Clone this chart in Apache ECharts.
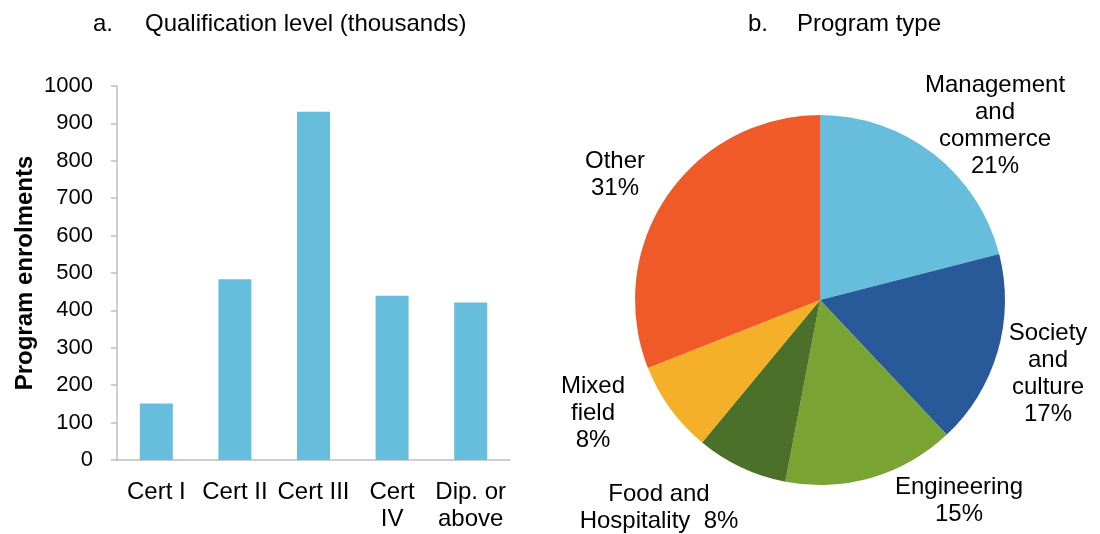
<!DOCTYPE html>
<html>
<head>
<meta charset="utf-8">
<script src="https://cdn.jsdelivr.net/npm/echarts@6/dist/echarts.min.js"></script>
<style>
  html, body { margin: 0; padding: 0; background: #fff; }
  #chart { width: 1100px; height: 534px; }
</style>
</head>
<body>
<div id="chart"></div>
<script>
// a. qualification level (thousands)
var levels = ['Cert I', 'Cert II', 'Cert III', 'Cert\nIV', 'Dip. or\nabove'];
var enrolments = [151, 483, 931, 439, 421];
var yTicks = [0, 100, 200, 300, 400, 500, 600, 700, 800, 900, 1000];

// b. program type (per cent)
var programs = ['Management\nand\ncommerce', 'Society\nand\nculture', 'Engineering', 'Food and\nHospitality ', 'Mixed\nfield', 'Other'];
var shares = [21, 17, 15, 8, 8, 31];
var pieColors = ['#66bddc', '#285a9a', '#79a433', '#4b7029', '#f3b028', '#f05a28'];

var font = '"Liberation Sans", Arial, sans-serif';
var fs = 24;     // words
var numFs = 22;  // tick numbers

// where each pie label sits (centre of text block)
var labelSpots = [[995, 126], [1048, 374], [959, 501], [659, 508], [593, 413], [615, 175]];

var chart = echarts.init(document.getElementById('chart'));

var pieData = [];
for (var i = 0; i < programs.length; i++) {
  pieData.push({ name: programs[i], value: shares[i], itemStyle: { color: pieColors[i] } });
}

function titleStyle() {
  return { fontSize: fs, fontWeight: 'normal', color: '#000', fontFamily: font };
}

var option = {
  animation: false,
  textStyle: { fontFamily: font },
  title: [
    { text: 'a.', left: 88, top: 7, textStyle: titleStyle() },
    { text: 'Qualification level (thousands)', left: 140, top: 7, textStyle: titleStyle() },
    { text: 'b.', left: 743, top: 7, textStyle: titleStyle() },
    { text: 'Program type', left: 792, top: 7, textStyle: titleStyle() }
  ],
  grid: { left: 117, right: 590, top: 86, bottom: 74 },
  xAxis: {
    type: 'category',
    data: levels,
    axisLine: { lineStyle: { color: '#bfbfbf', width: 1.5 } },
    axisTick: { show: false },
    axisLabel: { color: '#000', fontSize: fs, fontFamily: font, margin: 19, lineHeight: 27, interval: 0 }
  },
  yAxis: {
    type: 'value',
    min: 0,
    max: 1000,
    interval: 100,
    name: 'Program enrolments',
    nameLocation: 'middle',
    nameGap: 80,
    nameTextStyle: { color: '#000', fontSize: fs, fontWeight: 'bold', fontFamily: font },
    axisLine: { show: true, lineStyle: { color: '#bfbfbf', width: 1.5 } },
    axisTick: { show: true, length: 6, lineStyle: { color: '#bfbfbf', width: 1.5 } },
    splitLine: { show: false },
    axisLabel: {
      color: '#000', fontSize: numFs, fontFamily: font, margin: 24,
      formatter: function (v) { return yTicks.indexOf(v) >= 0 ? String(v) : ''; }
    }
  },
  series: [
    {
      type: 'bar',
      data: enrolments,
      barWidth: 33,
      itemStyle: { color: '#66bddc' }
    },
    {
      type: 'pie',
      center: [820, 300],
      radius: 185,
      startAngle: 90,
      clockwise: true,
      data: pieData,
      itemStyle: { borderWidth: 0 },
      labelLine: { show: false },
      label: {
        show: true,
        position: 'outside',
        color: '#000',
        fontSize: fs,
        fontFamily: font,
        lineHeight: 27,
        align: 'center',
        overflow: 'none',
        width: 300,
        formatter: function (p) {
          var sep = p.dataIndex === 3 ? ' ' : '\n';
          return p.name + sep + p.value + '%';
        }
      },
      labelLayout: function (params) {
        var s = labelSpots[params.dataIndex];
        return { x: s[0], y: s[1], align: 'center', verticalAlign: 'middle' };
      }
    }
  ]
};

chart.setOption(option);
</script>
</body>
</html>
